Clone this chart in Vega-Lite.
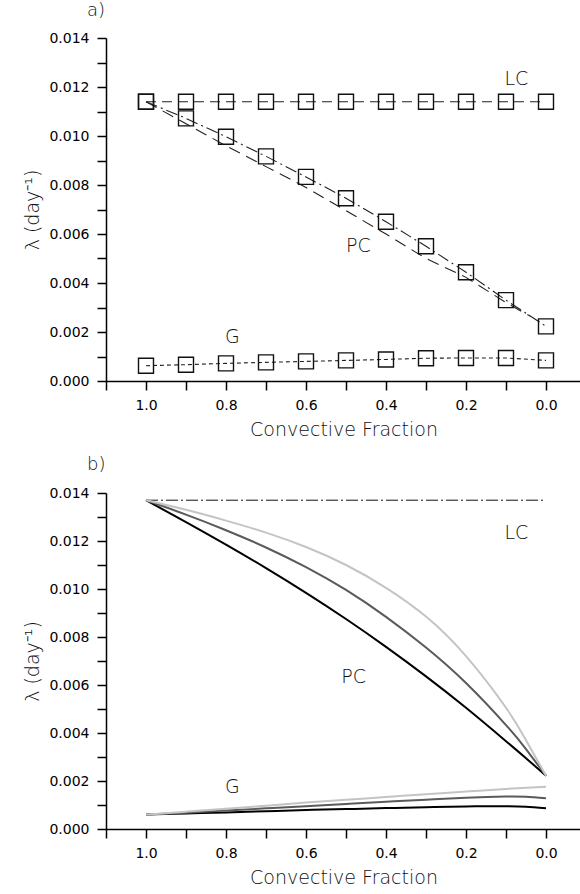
{
  "$schema": "https://vega.github.io/schema/vega-lite/v6.json",
  "background": "white",
  "padding": {"left": 23, "top": 2, "right": 0, "bottom": 0},
  "spacing": 17,
  "config": {
    "view": {"stroke": null},
    "axis": {"grid": false, "domainColor": "#000", "domainWidth": 1.5, "tickColor": "#000", "tickWidth": 1.5, "tickSize": 9,
      "labelFont": "DejaVu Sans", "labelFontSize": 14, "labelColor": "#000",
      "titleFont": "DejaVu Sans", "titleFontWeight": 200, "titleFontSize": 19, "titleColor": "#111"}
  },
  "datasets": {
    "a": [
      {"series": "LC", "f": 1.0, "lambda": 0.0114}, {"series": "LC", "f": 0.9, "lambda": 0.0114}, {"series": "LC", "f": 0.8, "lambda": 0.0114}, {"series": "LC", "f": 0.7, "lambda": 0.0114}, {"series": "LC", "f": 0.6, "lambda": 0.0114}, {"series": "LC", "f": 0.5, "lambda": 0.0114}, {"series": "LC", "f": 0.4, "lambda": 0.0114}, {"series": "LC", "f": 0.3, "lambda": 0.0114}, {"series": "LC", "f": 0.2, "lambda": 0.0114}, {"series": "LC", "f": 0.1, "lambda": 0.0114}, {"series": "LC", "f": 0.0, "lambda": 0.0114},
      {"series": "PC", "f": 1.0, "lambda": 0.0114}, {"series": "PC", "f": 0.9, "lambda": 0.01072}, {"series": "PC", "f": 0.8, "lambda": 0.00997}, {"series": "PC", "f": 0.7, "lambda": 0.00917}, {"series": "PC", "f": 0.6, "lambda": 0.00833}, {"series": "PC", "f": 0.5, "lambda": 0.00746}, {"series": "PC", "f": 0.4, "lambda": 0.0065}, {"series": "PC", "f": 0.3, "lambda": 0.0055}, {"series": "PC", "f": 0.2, "lambda": 0.00444}, {"series": "PC", "f": 0.1, "lambda": 0.0033}, {"series": "PC", "f": 0.0, "lambda": 0.00223},
      {"series": "PC2", "f": 1.0, "lambda": 0.0114}, {"series": "PC2", "f": 0.9, "lambda": 0.0105}, {"series": "PC2", "f": 0.8, "lambda": 0.0096}, {"series": "PC2", "f": 0.7, "lambda": 0.00875}, {"series": "PC2", "f": 0.6, "lambda": 0.0079}, {"series": "PC2", "f": 0.5, "lambda": 0.00695}, {"series": "PC2", "f": 0.4, "lambda": 0.006}, {"series": "PC2", "f": 0.3, "lambda": 0.005}, {"series": "PC2", "f": 0.2, "lambda": 0.00423}, {"series": "PC2", "f": 0.1, "lambda": 0.0032}, {"series": "PC2", "f": 0.04, "lambda": 0.00265},
      {"series": "G", "f": 1.0, "lambda": 0.000625}, {"series": "G", "f": 0.9, "lambda": 0.000666}, {"series": "G", "f": 0.8, "lambda": 0.00072}, {"series": "G", "f": 0.7, "lambda": 0.00076}, {"series": "G", "f": 0.6, "lambda": 0.0008}, {"series": "G", "f": 0.5, "lambda": 0.00084}, {"series": "G", "f": 0.4, "lambda": 0.00088}, {"series": "G", "f": 0.3, "lambda": 0.00093}, {"series": "G", "f": 0.2, "lambda": 0.00094}, {"series": "G", "f": 0.1, "lambda": 0.00094}, {"series": "G", "f": 0.0, "lambda": 0.00084}
    ],
    "alabels": [
      {"label": "LC", "f": 0.074, "lambda": 0.01232},
      {"label": "PC", "f": 0.469, "lambda": 0.00551},
      {"label": "G", "f": 0.784, "lambda": 0.0018}
    ],
    "b": [
      {"series": "LC", "f": 1.0, "lambda": 0.0137}, {"series": "LC", "f": 0.0, "lambda": 0.0137},
      {"series": "PC black", "f": 1.0, "lambda": 0.0137}, {"series": "PC black", "f": 0.9, "lambda": 0.01279}, {"series": "PC black", "f": 0.8, "lambda": 0.01185}, {"series": "PC black", "f": 0.7, "lambda": 0.01087}, {"series": "PC black", "f": 0.6, "lambda": 0.00984}, {"series": "PC black", "f": 0.5, "lambda": 0.00875}, {"series": "PC black", "f": 0.4, "lambda": 0.00759}, {"series": "PC black", "f": 0.3, "lambda": 0.00636}, {"series": "PC black", "f": 0.2, "lambda": 0.00505}, {"series": "PC black", "f": 0.1, "lambda": 0.00366}, {"series": "PC black", "f": 0.05, "lambda": 0.00295}, {"series": "PC black", "f": 0.0, "lambda": 0.00222},
      {"series": "PC dark", "f": 1.0, "lambda": 0.0137}, {"series": "PC dark", "f": 0.9, "lambda": 0.0131}, {"series": "PC dark", "f": 0.8, "lambda": 0.01245}, {"series": "PC dark", "f": 0.7, "lambda": 0.01173}, {"series": "PC dark", "f": 0.6, "lambda": 0.01091}, {"series": "PC dark", "f": 0.5, "lambda": 0.00996}, {"series": "PC dark", "f": 0.4, "lambda": 0.00884}, {"series": "PC dark", "f": 0.3, "lambda": 0.00756}, {"series": "PC dark", "f": 0.2, "lambda": 0.00608}, {"series": "PC dark", "f": 0.1, "lambda": 0.00433}, {"series": "PC dark", "f": 0.05, "lambda": 0.00333}, {"series": "PC dark", "f": 0.0, "lambda": 0.00222},
      {"series": "PC light", "f": 1.0, "lambda": 0.0137}, {"series": "PC light", "f": 0.9, "lambda": 0.0133}, {"series": "PC light", "f": 0.8, "lambda": 0.01285}, {"series": "PC light", "f": 0.7, "lambda": 0.01235}, {"series": "PC light", "f": 0.6, "lambda": 0.01175}, {"series": "PC light", "f": 0.5, "lambda": 0.011}, {"series": "PC light", "f": 0.4, "lambda": 0.01005}, {"series": "PC light", "f": 0.3, "lambda": 0.00885}, {"series": "PC light", "f": 0.2, "lambda": 0.0072}, {"series": "PC light", "f": 0.1, "lambda": 0.00505}, {"series": "PC light", "f": 0.05, "lambda": 0.0037}, {"series": "PC light", "f": 0.0, "lambda": 0.00222},
      {"series": "G black", "f": 1.0, "lambda": 0.0006}, {"series": "G black", "f": 0.9, "lambda": 0.00065}, {"series": "G black", "f": 0.8, "lambda": 0.00069}, {"series": "G black", "f": 0.7, "lambda": 0.00074}, {"series": "G black", "f": 0.6, "lambda": 0.00079}, {"series": "G black", "f": 0.5, "lambda": 0.00083}, {"series": "G black", "f": 0.4, "lambda": 0.00087}, {"series": "G black", "f": 0.3, "lambda": 0.00091}, {"series": "G black", "f": 0.2, "lambda": 0.00094}, {"series": "G black", "f": 0.1, "lambda": 0.00095}, {"series": "G black", "f": 0.05, "lambda": 0.00093}, {"series": "G black", "f": 0.0, "lambda": 0.00086},
      {"series": "G dark", "f": 1.0, "lambda": 0.0006}, {"series": "G dark", "f": 0.9, "lambda": 0.00068}, {"series": "G dark", "f": 0.8, "lambda": 0.00077}, {"series": "G dark", "f": 0.7, "lambda": 0.00086}, {"series": "G dark", "f": 0.6, "lambda": 0.00095}, {"series": "G dark", "f": 0.5, "lambda": 0.00104}, {"series": "G dark", "f": 0.4, "lambda": 0.00114}, {"series": "G dark", "f": 0.3, "lambda": 0.00122}, {"series": "G dark", "f": 0.2, "lambda": 0.0013}, {"series": "G dark", "f": 0.1, "lambda": 0.00135}, {"series": "G dark", "f": 0.05, "lambda": 0.00134}, {"series": "G dark", "f": 0.0, "lambda": 0.00128},
      {"series": "G light", "f": 1.0, "lambda": 0.0006}, {"series": "G light", "f": 0.9, "lambda": 0.00072}, {"series": "G light", "f": 0.8, "lambda": 0.00084}, {"series": "G light", "f": 0.7, "lambda": 0.00097}, {"series": "G light", "f": 0.6, "lambda": 0.0011}, {"series": "G light", "f": 0.5, "lambda": 0.00122}, {"series": "G light", "f": 0.4, "lambda": 0.00133}, {"series": "G light", "f": 0.3, "lambda": 0.00145}, {"series": "G light", "f": 0.2, "lambda": 0.00156}, {"series": "G light", "f": 0.1, "lambda": 0.00167}, {"series": "G light", "f": 0.0, "lambda": 0.00176}
    ],
    "blabels": [
      {"label": "LC", "f": 0.074, "lambda": 0.01232},
      {"label": "PC", "f": 0.481, "lambda": 0.00633},
      {"label": "G", "f": 0.784, "lambda": 0.00176}
    ]
  },
  "vconcat": [
    {
      "title": {"text": "a)", "anchor": "start", "frame": "group", "dx": -19, "offset": 11, "fontSize": 18, "font": "DejaVu Sans", "fontWeight": 200, "color": "#111"},
      "width": 475,
      "height": 343,
      "encoding": {
        "x": {"field": "f", "type": "quantitative", "scale": {"domain": [1.1, -0.0875], "nice": false, "zero": false},
          "axis": {"title": "Convective Fraction", "values": [1.1, 1.0, 0.9, 0.8, 0.7, 0.6, 0.5, 0.4, 0.3, 0.2, 0.1, 0.0], "labelExpr": "(round(datum.value*10) % 2 == 0) ? format(datum.value, '.1f') : ''", "labelPadding": 8, "titlePadding": 8}},
        "y": {"field": "lambda", "type": "quantitative", "scale": {"domain": [0, 0.014], "nice": false},
          "axis": {"title": "λ  (day⁻¹)", "values": [0, 0.001, 0.002, 0.003, 0.004, 0.005, 0.006, 0.007, 0.008, 0.009, 0.01, 0.011, 0.012, 0.013, 0.014], "labelExpr": "(round(datum.value*1000) % 2 == 0) ? format(datum.value, '.3f') : ''", "labelPadding": 8, "titlePadding": 6}}
      },
      "layer": [
        {
          "data": {"name": "a"},
          "mark": {"type": "line", "color": "#222", "strokeWidth": 1.1},
          "encoding": {
            "detail": {"field": "series"},
            "strokeDash": {"field": "series", "type": "nominal", "legend": null,
              "scale": {"domain": ["LC", "PC", "PC2", "G"], "range": [[10, 6], [12, 4, 2, 4], [12, 7], [4, 3]]}}
          }
        },
        {
          "data": {"name": "a"},
          "transform": [{"filter": "datum.series != 'PC2'"}],
          "mark": {"type": "point", "shape": "square", "size": 225, "filled": false, "stroke": "#111", "strokeWidth": 1.4, "opacity": 1}
        },
        {
          "data": {"name": "alabels"},
          "mark": {"type": "text", "font": "DejaVu Sans", "fontWeight": 200, "fontSize": 19, "color": "#111", "align": "center", "baseline": "middle"},
          "encoding": {"text": {"field": "label"}}
        }
      ]
    },
    {
      "title": {"text": "b)", "anchor": "start", "frame": "group", "dx": -19, "offset": 12, "fontSize": 18, "font": "DejaVu Sans", "fontWeight": 200, "color": "#111"},
      "width": 475,
      "height": 336,
      "encoding": {
        "x": {"field": "f", "type": "quantitative", "scale": {"domain": [1.1, -0.0875], "nice": false, "zero": false},
          "axis": {"title": "Convective Fraction", "values": [1.1, 1.0, 0.9, 0.8, 0.7, 0.6, 0.5, 0.4, 0.3, 0.2, 0.1, 0.0], "labelExpr": "(round(datum.value*10) % 2 == 0) ? format(datum.value, '.1f') : ''", "labelPadding": 8, "titlePadding": 8}},
        "y": {"field": "lambda", "type": "quantitative", "scale": {"domain": [0, 0.014], "nice": false},
          "axis": {"title": "λ  (day⁻¹)", "values": [0, 0.001, 0.002, 0.003, 0.004, 0.005, 0.006, 0.007, 0.008, 0.009, 0.01, 0.011, 0.012, 0.013, 0.014], "labelExpr": "(round(datum.value*1000) % 2 == 0) ? format(datum.value, '.3f') : ''", "labelPadding": 8, "titlePadding": 6}}
      },
      "layer": [
        {
          "data": {"name": "b"},
          "transform": [{"filter": "datum.series == 'LC'"}],
          "mark": {"type": "line", "color": "#111", "strokeWidth": 1, "strokeDash": [12, 3, 2, 3]},
          "encoding": {}
        },
        {
          "data": {"name": "b"},
          "transform": [{"filter": "datum.series != 'LC'"}],
          "mark": {"type": "line", "strokeWidth": 2, "interpolate": "natural"},
          "encoding": {
            "detail": {"field": "series"},
            "color": {"field": "series", "type": "nominal", "legend": null,
              "scale": {"domain": ["PC light", "PC dark", "PC black", "G light", "G dark", "G black"], "range": ["#c4c4c4", "#5a5a5a", "#000000", "#c4c4c4", "#5a5a5a", "#000000"]}}
          }
        },
        {
          "data": {"name": "blabels"},
          "mark": {"type": "text", "font": "DejaVu Sans", "fontWeight": 200, "fontSize": 19, "color": "#111", "align": "center", "baseline": "middle"},
          "encoding": {"text": {"field": "label"}}
        }
      ]
    }
  ]
}
